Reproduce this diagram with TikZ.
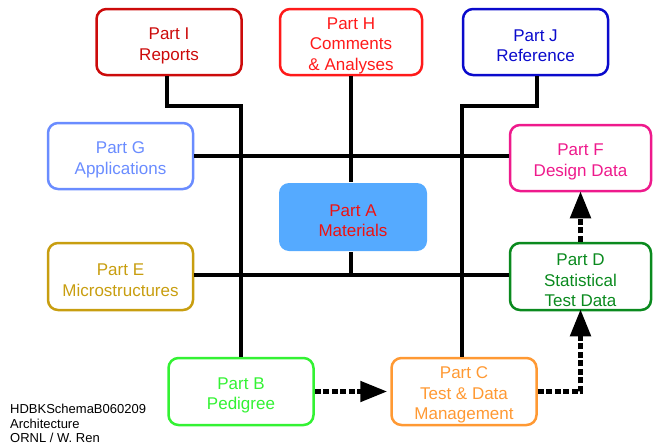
\documentclass[tikz,border=0pt]{standalone}
\usepackage{fontspec}
\setmainfont{Liberation Sans}
\usetikzlibrary{arrows.meta}
\definecolor{cI}{HTML}{CC0A0A}
\definecolor{cH}{HTML}{FF1A1A}
\definecolor{cJ}{HTML}{0A0ACC}
\definecolor{cG}{HTML}{6A8CFF}
\definecolor{cF}{HTML}{EE1A8C}
\definecolor{cAfill}{HTML}{55AAFF}
\definecolor{cAtext}{HTML}{EE1111}
\definecolor{cE}{HTML}{C89E10}
\definecolor{cD}{HTML}{0A8A1E}
\definecolor{cB}{HTML}{33F233}
\definecolor{cC}{HTML}{FF9933}
\newcommand{\tpstrut}{\rule{0pt}{19.3pt}}
\tikzset{
  part/.style={draw, line width=2.5pt, rounded corners=10pt, align=center,
    minimum width=145pt, minimum height=66pt, inner sep=0pt,
    font=\fontsize{17}{20.5}\selectfont},
  bus/.style={line width=4pt, draw=black},
  flow/.style={line width=5pt, draw=black, dash pattern=on 6pt off 2.5pt,
    -{Triangle[length=27pt,width=20pt]}},
}
\begin{document}
\begin{tikzpicture}[x=1pt,y=-1pt]
\useasboundingbox (0,0) rectangle (653,447);
\node[part, draw=cI, text=cI] (I) at (169,42) {\tpstrut Part I\\Reports};
\node[part, draw=cH, text=cH, minimum width=142pt] (H) at (351,42) {\tpstrut Part H\\Comments\\\& Analyses};
\node[part, draw=cJ, text=cJ] (J) at (535.5,42) {\tpstrut Part J\\Reference};
\node[part, draw=cG, text=cG] (G) at (120.5,156) {\tpstrut Part G\\Applications};
\node[part, draw=cF, text=cF, minimum width=141pt] (F) at (580.5,158) {\tpstrut Part F\\Design Data};
\node[part, draw=none, fill=cAfill, text=cAtext, minimum width=148pt, minimum height=68pt] (A) at (353,217) {\tpstrut Part A\\Materials};
\node[part, draw=cE, text=cE, minimum height=67pt] (E) at (120.5,276.5) {\tpstrut Part E\\Microstructures};
\node[part, draw=cD, text=cD, minimum width=141pt, minimum height=67pt] (D) at (580.5,276.5) {\tpstrut Part D\\Statistical\\Test Data};
\node[part, draw=cB, text=cB, minimum height=67pt] (B) at (241,391.5) {\tpstrut Part B\\Pedigree};
\node[part, draw=cC, text=cC, minimum height=67pt] (C) at (464,391.5) {\tpstrut Part C\\Test \& Data\\Management};
\node[anchor=north west, align=left, inner sep=0pt, font=\fontsize{13}{14.5}\selectfont] (note) at (10,404) {HDBKSchemaB060209\\Architecture\\ORNL / W. Ren};
% bus lines
\draw[bus] ([xshift=-2pt]I.south) -- ++(0,30) -| (B.north);
\draw[bus] ([xshift=1pt]J.south) -- ++(0,30) -| ([xshift=-2pt]C.north);
\draw[bus] (G.east) -- (G.east -| F.west);
\draw[bus] ([yshift=1.5pt]E.east) -- ([yshift=1.5pt]E.east -| D.west);
\draw[bus] (H.south) -- (H.south |- A.north);
\draw[bus] (H.south |- A.south) -- ([yshift=1.5pt]H.south |- E.east);
% flows
\draw[flow] (B.east) -- ([xshift=-3pt]C.west);
\draw[flow] (C.east) -| ([yshift=2pt]D.south);
\draw[flow] (D.north) -- ([yshift=1pt]F.south);
\end{tikzpicture}
\end{document}
